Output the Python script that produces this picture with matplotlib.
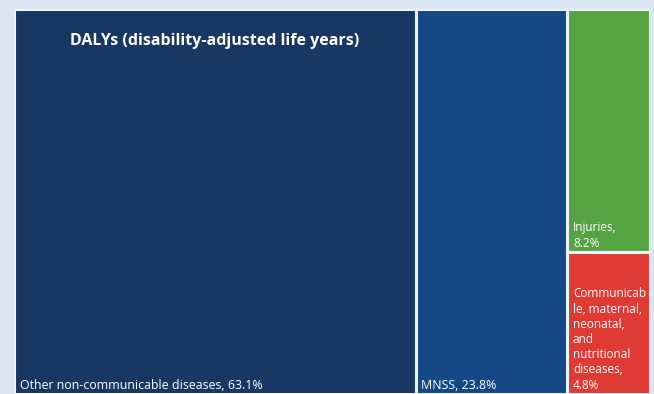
import matplotlib
matplotlib.use("Agg")
import matplotlib.pyplot as plt
from matplotlib.patches import Rectangle

categories = ["Other non-communicable diseases", "MNSS", "Injuries",
              "Communicable, maternal, neonatal, and nutritional diseases"]
values = [63.1, 23.8, 8.2, 4.8]
labels = ["Other non-communicable diseases, 63.1%", "MNSS, 23.8%",
          "Injuries,\n8.2%",
          "Communicab\nle, maternal,\nneonatal,\nand\nnutritional\ndiseases,\n4.8%"]
colors = ["#193763", "#154886", "#56a343", "#e03a35"]
title = "DALYs (disability-adjusted life years)"

W, H = 654, 394
fig = plt.figure(figsize=(W / 100, H / 100), dpi=100)
fig.patch.set_facecolor("#dae6f3")
ax = fig.add_axes([14 / W, 0, 636 / W, 385 / H])
ax.set_xlim(0, 1)
ax.set_ylim(0, 1)
ax.axis("off")

total = sum(values)
# layout: first two as full-height columns, the rest stacked in last column
rects = []
x = 0.0
for v in values[:2]:
    w = v / total
    rects.append((x, 0.0, w, 1.0))
    x += w
rest = sum(values[2:])
wcol = rest / total
ytop = 1.0
for v in values[2:]:
    h = v / rest
    rects.append((x, ytop - h, wcol, h))
    ytop -= h

font = "Open Sans"
sizes = [8.9, 8.9, 8.5, 8.5]
for (rx, ry, rw, rh), c, lab, fs in zip(rects, colors, labels, sizes):
    ax.add_patch(Rectangle((rx, ry), rw, rh, facecolor=c, edgecolor="#eef3f9",
                           linewidth=2.2))
    ax.text(rx + 0.009, ry + 0.006, lab, color="white", fontsize=fs,
            family=font, ha="left", va="bottom", linespacing=1.22)

ox, oy, ow, oh = rects[0]
ax.text(ox + ow / 2, 1 - 0.083, title, color="white", fontsize=11.5,
        fontweight="bold", family=font, ha="center", va="center")

fig.savefig("out.png", dpi=100, facecolor=fig.get_facecolor())
